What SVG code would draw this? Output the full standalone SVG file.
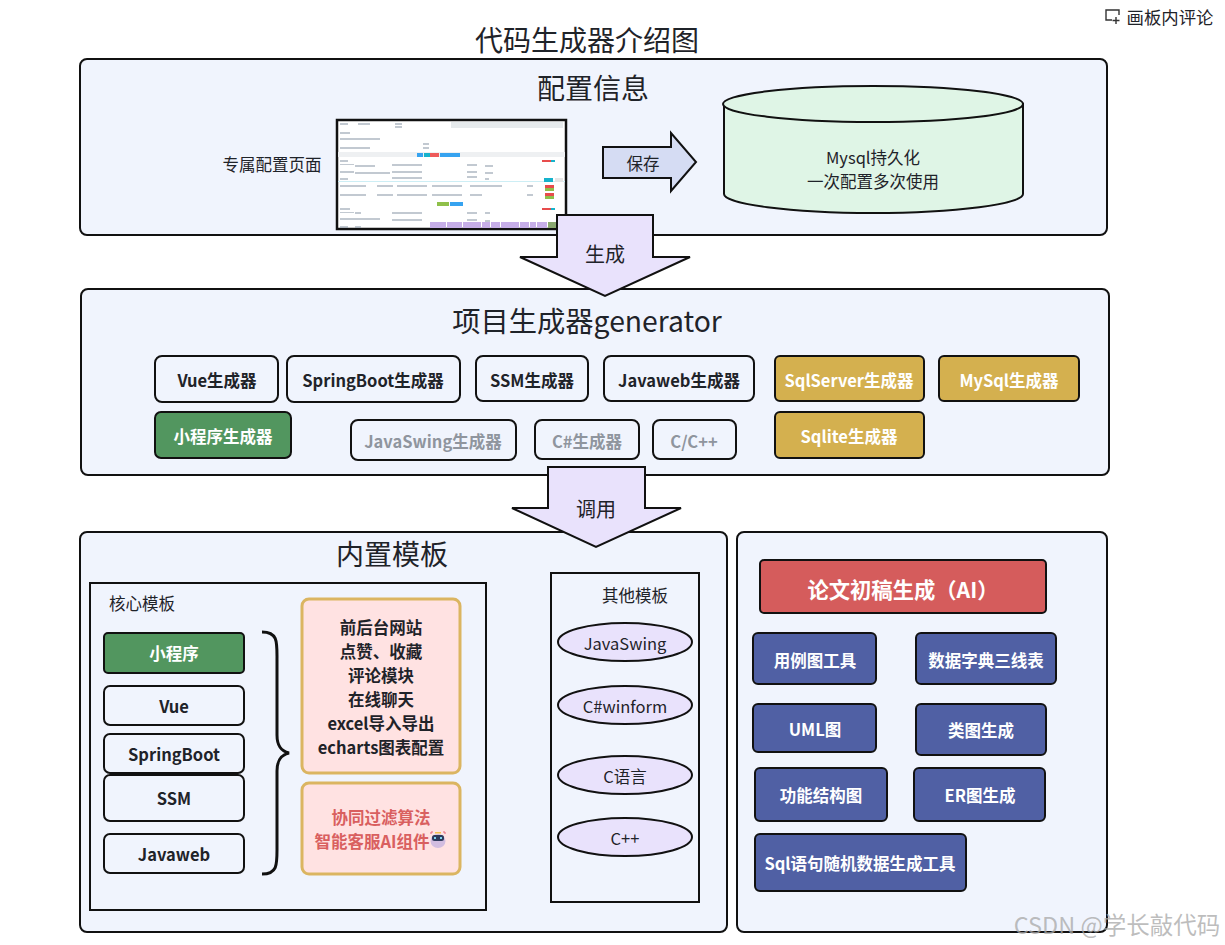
<svg xmlns="http://www.w3.org/2000/svg" width="1225" height="945" viewBox="0 0 1225 945">
<style>
text{font-family:"Noto Sans CJK SC","Noto Sans",sans-serif;fill:#1f2329;text-anchor:middle;dominant-baseline:central;transform:translateY(-1px)}
.p{fill:#f0f4fd;stroke:#111;stroke-width:2}
.n{fill:#f0f4fd;stroke:#111;stroke-width:2}
.b{font-weight:700;font-size:16.5px}
.g{fill:#52965f;stroke:#111;stroke-width:2}
.y{fill:#d4b04f;stroke:#111;stroke-width:2}
.u{fill:#5060a4;stroke:#111;stroke-width:2}
.w{fill:#fff}
.m{fill:#8f959e}
.t{font-size:28px}
.a{fill:#e9e2fc;stroke:#111;stroke-width:2}
.e{fill:#e9e2fc;stroke:#111;stroke-width:2}
.o{font-size:16.5px}
.s{font-size:16.5px}
.h{font-size:20px}
.pk{fill:#ffe2e2;stroke:#dbb561;stroke-width:3}
</style>
<rect width="1225" height="945" fill="#fff"/>
<g id="comment"><path d="M1112 20h-6V10h13v5M1116 17v7M1112.500 20.500h7" fill="none" stroke="#333" stroke-width="1.400"/><text x="1170" y="17" style="font-size:17.400px">画板内评论</text></g>
<text id="title" x="587" y="40" class="t">代码生成器介绍图</text>
<g id="config"><rect class="p" x="80" y="59" width="1027" height="176" rx="7"/><text x="593" y="88" class="t">配置信息</text></g>
<g id="config-label"><text x="272" y="165" class="s">专属配置页面</text></g>
<g id="screenshot"><rect x="337" y="120" width="229" height="109" fill="#fff" stroke="#111" stroke-width="2.500"/>
<rect x="451" y="122" width="112" height="6" fill="#e6eaec"/>
<rect x="338" y="152" width="227" height="5" fill="#eef0f2"/>
<rect x="417" y="153" width="6" height="4" fill="#36a3f0"/><rect x="424" y="153" width="6" height="4" fill="#16b3cc"/><rect x="430" y="153" width="9" height="4" fill="#ee5a5a"/><rect x="440" y="153" width="20" height="4" fill="#36a3f0"/>
<rect x="338" y="181" width="227" height="1" fill="#cdeef5"/>
<rect x="437" y="202" width="12" height="4" fill="#8fc04a"/><rect x="450" y="202" width="13" height="4" fill="#36a3f0"/>
<rect x="544" y="178" width="9" height="4" fill="#16b3cc"/><rect x="555" y="178" width="8" height="4" fill="#e6e6e6"/>
<rect x="542" y="160" width="9" height="2" fill="#e74c4c"/><rect x="551" y="160" width="4" height="2" fill="#16b3cc"/><rect x="542" y="208" width="9" height="2" fill="#e74c4c"/><rect x="551" y="208" width="4" height="2" fill="#16b3cc"/>
<rect x="545" y="185" width="9" height="3" fill="#e74c4c"/><rect x="545" y="188" width="9" height="3" fill="#8fc04a"/><rect x="545" y="193" width="9" height="3" fill="#e74c4c"/><rect x="545" y="196" width="9" height="3" fill="#8fc04a"/>
<g fill="#c6aee8"><rect x="430" y="222" width="16" height="6"/><rect x="447" y="222" width="15" height="6"/><rect x="463" y="222" width="18" height="6"/><rect x="482" y="222" width="8" height="6"/><rect x="491" y="222" width="9" height="6"/><rect x="501" y="222" width="18" height="6"/><rect x="520" y="222" width="9" height="6"/><rect x="530" y="222" width="6" height="6"/><rect x="537" y="222" width="10" height="6"/></g><rect x="548" y="222" width="9" height="6" fill="#8aa870"/>
<g fill="#8f9cab" fill-opacity=".55"><rect x="340" y="123" width="8" height="2"/><rect x="358" y="123" width="12" height="2"/><rect x="395" y="123" width="7" height="2"/><rect x="395" y="126" width="7" height="2"/><rect x="340" y="132" width="10" height="2"/><rect x="340" y="138" width="40" height="2"/><rect x="340" y="147" width="30" height="2"/><rect x="423" y="143" width="6" height="2"/><rect x="423" y="147" width="6" height="2"/><rect x="340" y="160" width="8" height="2"/><rect x="340" y="164" width="14" height="1"/><rect x="355" y="165" width="20" height="2"/><rect x="392" y="164" width="30" height="2"/><rect x="467" y="164" width="10" height="2"/><rect x="485" y="165" width="8" height="2"/><rect x="340" y="171" width="14" height="2"/><rect x="355" y="172" width="35" height="2"/><rect x="392" y="171" width="30" height="2"/><rect x="467" y="171" width="10" height="2"/><rect x="485" y="172" width="8" height="2"/><rect x="340" y="178" width="8" height="2"/><rect x="392" y="177" width="30" height="2"/><rect x="467" y="176" width="10" height="2"/><rect x="485" y="178" width="4" height="2"/><rect x="340" y="185" width="18" height="2"/><rect x="358" y="185" width="8" height="2"/><rect x="377" y="185" width="16" height="2"/><rect x="397" y="185" width="30" height="2"/><rect x="432" y="185" width="30" height="2"/><rect x="470" y="185" width="32" height="2"/><rect x="527" y="185" width="6" height="2"/><rect x="340" y="194" width="18" height="2"/><rect x="358" y="194" width="8" height="2"/><rect x="377" y="194" width="16" height="2"/><rect x="397" y="194" width="30" height="2"/><rect x="432" y="194" width="30" height="2"/><rect x="470" y="194" width="12" height="2"/><rect x="527" y="194" width="6" height="2"/><rect x="340" y="208" width="10" height="2"/><rect x="340" y="212" width="14" height="1"/><rect x="355" y="212" width="6" height="2"/><rect x="392" y="212" width="30" height="2"/><rect x="467" y="212" width="10" height="2"/><rect x="485" y="212" width="5" height="2"/><rect x="340" y="218" width="40" height="2"/><rect x="392" y="219" width="30" height="2"/><rect x="467" y="219" width="10" height="2"/><rect x="485" y="220" width="5" height="2"/><rect x="340" y="226" width="8" height="2"/><rect x="355" y="226" width="6" height="2"/></g></g>
<g id="save"><path class="a" style="fill:#d5dcf3" d="M603 147H671V133L696 162L671 191V178H603Z"/><text x="643" y="164" class="s">保存</text></g>
<g id="mysql"><path d="M724 104V194C724 204 790 213 873 213S1023 204 1023 194V104Z" fill="#dff5e6" stroke="#111" stroke-width="2"/><ellipse cx="873" cy="104" rx="150" ry="18" fill="#dff5e6" stroke="#111" stroke-width="2"/><text x="873" y="158" class="s">Mysql持久化</text><text x="873" y="182" class="s">一次配置多次使用</text></g>
<g id="generator"><rect class="p" x="81" y="289" width="1028" height="186" rx="7"/><text x="587" y="320" style="font-size:28.300px">项目生成器generator</text></g>
<g id="connectors"><g id="arrow-generate"><path class="a" d="M557 215H653V257H690L605 296L520 257H557Z"/><text x="605" y="254" class="h">生成</text></g></g>
<g id="vue"><rect class="n" x="155" y="356" width="123" height="46" rx="7"/><text x="217" y="381" class="b">Vue生成器</text></g>
<g id="springboot"><rect class="n" x="287" y="356" width="173" height="46" rx="7"/><text x="373" y="381" class="b">SpringBoot生成器</text></g>
<g id="ssm"><rect class="n" x="476" y="356" width="112" height="45" rx="7"/><text x="532" y="381" class="b">SSM生成器</text></g>
<g id="javaweb"><rect class="n" x="604" y="356" width="150" height="45" rx="7"/><text x="679" y="381" class="b">Javaweb生成器</text></g>
<g id="sqlserver"><rect class="y" x="775" y="356" width="149" height="45" rx="5"/><text x="849" y="381" class="b w">SqlServer生成器</text></g>
<g id="mysqlgen"><rect class="y" x="939" y="356" width="140" height="45" rx="5"/><text x="1009" y="381" class="b w">MySql生成器</text></g>
<g id="miniapp"><rect class="g" x="155" y="412" width="136" height="46" rx="6"/><text x="223" y="437" class="b w">小程序生成器</text></g>
<g id="javaswing"><rect class="n" x="351" y="420" width="165" height="40" rx="7"/><text x="433" y="442" class="b m">JavaSwing生成器</text></g>
<g id="csharp"><rect class="n" x="535" y="420" width="104" height="39" rx="7"/><text x="587" y="442" class="b m">C#生成器</text></g>
<g id="cpp"><rect class="n" x="653" y="420" width="83" height="39" rx="7"/><text x="694" y="442" class="b m">C/C++</text></g>
<g id="sqlite"><rect class="y" x="775" y="412" width="149" height="46" rx="5"/><text x="849" y="437" class="b w">Sqlite生成器</text></g>
<g id="builtin"><rect class="p" x="80" y="532" width="647" height="400" rx="7"/><text x="392" y="554" class="t">内置模板</text></g>
<g id="thesis"><rect class="p" x="737" y="532" width="370" height="400" rx="7"/></g>
<g id="arrow-call"><path class="a" d="M548 467H645V508H681L596 547L512 508H548Z"/><text x="596" y="509" class="h">调用</text></g>
<g id="core"><rect x="90" y="583" width="396" height="327" fill="#f0f4fd" stroke="#111" stroke-width="2"/><text x="142" y="604" class="s">核心模板</text></g>
<g id="t-mini"><rect class="g" x="104" y="633" width="140" height="40" rx="4"/><text x="174" y="654" class="b w">小程序</text></g>
<g id="t-vue"><rect class="n" x="104" y="686" width="140" height="39" rx="6"/><text x="174" y="707" class="b">Vue</text></g>
<g id="t-spring"><rect class="n" x="104" y="734" width="140" height="39" rx="6"/><text x="174" y="755" class="b">SpringBoot</text></g>
<g id="t-ssm"><rect class="n" x="104" y="775" width="140" height="46" rx="6"/><text x="174" y="799" class="b">SSM</text></g>
<g id="t-javaweb"><rect class="n" x="104" y="834" width="140" height="39" rx="6"/><text x="174" y="855" class="b">Javaweb</text></g>
<g id="brace"><path d="M262 632C278 632 277 642 277 660V735C277 746 281 751 289 753C281 755 277 760 277 771V846C277 864 278 874 262 874" fill="none" stroke="#111" stroke-width="3"/></g>
<g id="features"><rect class="pk" x="302" y="599" width="158" height="174" rx="7"/><text class="b" x="381" y="628">前后台网站</text><text class="b" x="381" y="652">点赞、收藏</text><text class="b" x="381" y="676">评论模块</text><text class="b" x="381" y="700">在线聊天</text><text class="b" x="381" y="724">excel导入导出</text><text class="b" x="381" y="748">echarts图表配置</text></g>
<g id="ai"><rect class="pk" x="302" y="783" width="158" height="91" rx="7"/><text class="b" x="381" y="818" style="fill:#d95f5f">协同过滤算法</text><text class="b" x="372" y="842" style="fill:#d95f5f">智能客服AI组件</text><g id="robot"><ellipse cx="438" cy="841" rx="7.500" ry="7" fill="#d2bde0"/><rect x="432" y="835" width="12" height="6" rx="2.500" fill="#2e3a5c"/><rect x="434" y="837" width="2" height="2" fill="#7fd3f0"/><rect x="440" y="837" width="2" height="2" fill="#7fd3f0"/><rect x="435" y="832" width="6" height="1.500" fill="#f2c14e"/><path d="M431 834V832H433M445 834V832H443" fill="none" stroke="#e8647a"/></g></g>
<g id="other"><rect x="551" y="573" width="148" height="329" fill="#f0f4fd" stroke="#111" stroke-width="2"/><text x="635" y="596" class="s">其他模板</text></g>
<g id="o-swing"><ellipse class="e" cx="625" cy="642" rx="67" ry="19"/><text class="o" x="625" y="644">JavaSwing</text></g>
<g id="o-cs"><ellipse class="e" cx="625" cy="705" rx="67" ry="19"/><text class="o" x="625" y="707">C#winform</text></g>
<g id="o-c"><ellipse class="e" cx="625" cy="775" rx="67" ry="19"/><text class="o" x="625" y="777">C语言</text></g>
<g id="o-cpp"><ellipse class="e" cx="625" cy="837" rx="67" ry="19"/><text class="o" x="625" y="839">C++</text></g>
<g id="ai-thesis"><rect x="760" y="560" width="286" height="53" rx="4" fill="#d55c5c" stroke="#111" stroke-width="2"/><text class="w" x="903" y="589" style="font-size:21.300px;font-weight:700">论文初稿生成（AI）</text></g>
<g id="usecase"><rect class="u" x="753" y="633" width="123" height="51" rx="5"/><text class="b w" x="815" y="661">用例图工具</text></g>
<g id="dict"><rect class="u" x="916" y="633" width="140" height="51" rx="5"/><text class="b w" x="986" y="661">数据字典三线表</text></g>
<g id="uml"><rect class="u" x="753" y="704" width="123" height="48" rx="5"/><text class="b w" x="815" y="730">UML图</text></g>
<g id="classgen"><rect class="u" x="916" y="704" width="130" height="51" rx="5"/><text class="b w" x="981" y="731">类图生成</text></g>
<g id="func"><rect class="u" x="755" y="768" width="132" height="53" rx="5"/><text class="b w" x="821" y="796">功能结构图</text></g>
<g id="er"><rect class="u" x="914" y="768" width="131" height="53" rx="5"/><text class="b w" x="980" y="796">ER图生成</text></g>
<g id="sqlgen"><rect class="u" x="755" y="834" width="211" height="57" rx="5"/><text class="b w" x="860" y="864">Sql语句随机数据生成工具</text></g>
<text id="watermark" x="1117" y="925" style="font-size:23.500px;fill:#a8a8a8;fill-opacity:.75">CSDN @学长敲代码</text>
</svg>
